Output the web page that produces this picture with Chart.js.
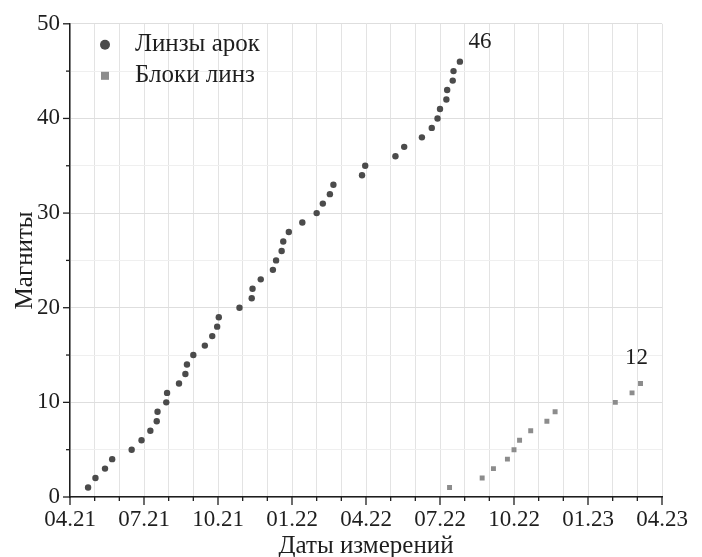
<!DOCTYPE html>
<html>
<head>
<meta charset="utf-8">
<script src="https://cdn.jsdelivr.net/npm/chart.js@4.4.0/dist/chart.umd.min.js"></script>
<style>
  html, body { margin: 0; padding: 0; background: #fff; }
  #wrap { width: 702px; height: 557px; }
</style>
</head>
<body>
<div id="wrap"><canvas id="myChart" width="702" height="557"></canvas></div>
<script>
// dates of measurement (dd.mm.yy) and cumulative counts
var datesArc = ['23.04.21', '02.05.21', '14.05.21', '23.05.21', '16.06.21', '28.06.21', '09.07.21', '17.07.21',
    '18.07.21', '29.07.21', '30.07.21', '14.08.21', '22.08.21', '24.08.21', '01.09.21', '15.09.21',
    '24.09.21', '30.09.21', '02.10.21', '28.10.21', '12.11.21', '13.11.21', '23.11.21', '08.12.21',
    '12.12.21', '19.12.21', '21.12.21', '28.12.21', '14.01.22', '01.02.22', '08.02.22', '16.02.22',
    '20.02.22', '27.03.22', '31.03.22', '07.05.22', '18.05.22', '09.06.22', '21.06.22', '28.06.22',
    '01.07.22', '09.07.22', '10.07.22', '17.07.22', '18.07.22', '26.07.22'];
var countArc = [1, 2, 3, 4, 5, 6, 7, 8, 9, 10, 11, 12, 13, 14, 15, 16, 17, 18, 19, 20, 21, 22, 23,
    24, 25, 26, 27, 28, 29, 30, 31, 32, 33, 34, 35, 36, 37, 38, 39, 40, 41, 42, 43, 44, 45, 46];

var datesBlock = ['13.07.22', '23.08.22', '06.09.22', '23.09.22', '01.10.22', '08.10.22', '22.10.22',
    '11.11.22', '21.11.22', '04.02.23', '23.02.23', '05.03.23'];
var countBlock = [1, 2, 3, 4, 5, 6, 7, 8, 9, 10, 11, 12];

var xTickLabels = ['04.21', '07.21', '10.21', '01.22', '04.22', '07.22', '10.22', '01.23', '04.23'];
var seriesNames = ['Линзы арок', 'Блоки линз'];

// months since 01.04.21
function toMonths(s) {
    var p = s.split('.');
    var d = +p[0], m = +p[1], y = 2000 + (+p[2]);
    var dim = new Date(y, m, 0).getDate();
    return (y - 2021) * 12 + (m - 4) + (d - 1) / dim;
}
function points(dates, counts) {
    return dates.map(function (d, i) { return { x: toMonths(d), y: counts[i] }; });
}

var serif = "'Liberation Serif', 'DejaVu Serif', serif";
var ink = '#1e1e1e';

var tickPlugin = {
    id: 'ticksMarks',
    afterDraw: function (chart) {
        var ctx = chart.ctx;
        var xs = chart.scales.x, ys = chart.scales.y;
        ctx.save();
        ctx.strokeStyle = ink;
        ctx.lineWidth = 1.3;
        xs.ticks.forEach(function (t, i) {
            var px = xs.getPixelForTick(i);
            var len = t.value % 3 === 0 ? 8 : 4;
            ctx.beginPath();
            ctx.moveTo(px, xs.top);
            ctx.lineTo(px, xs.top + len);
            ctx.stroke();
        });
        ys.ticks.forEach(function (t, i) {
            var py = ys.getPixelForTick(i);
            var len = t.value % 10 === 0 ? 7 : 4;
            ctx.beginPath();
            ctx.moveTo(ys.right, py);
            ctx.lineTo(ys.right - len, py);
            ctx.stroke();
        });
        ctx.restore();
    }
};

var legendPlugin = {
    id: 'innerLegend',
    afterDatasetsDraw: function (chart) {
        var ctx = chart.ctx;
        var a = chart.chartArea;
        ctx.save();
        ctx.font = '25px ' + serif;
        ctx.textBaseline = 'middle';
        chart.data.datasets.forEach(function (ds, i) {
            var cx = a.left + 35, cy = a.top + 21 + i * 31;
            ctx.fillStyle = ds.backgroundColor;
            if (ds.pointStyle === 'rect') {
                ctx.fillRect(cx - 4, cy - 4, 8, 8);
            } else {
                ctx.beginPath();
                ctx.arc(cx, cy, 5, 0, Math.PI * 2);
                ctx.fill();
            }
            ctx.fillStyle = ink;
            ctx.fillText(ds.label, a.left + 65, cy);
        });

        // last value next to each series
        ctx.font = '23px ' + serif;
        ctx.textAlign = 'center';
        var offs = [[20, -20], [-4, -25]];
        chart.data.datasets.forEach(function (ds, i) {
            var meta = chart.getDatasetMeta(i);
            var last = meta.data[meta.data.length - 1];
            var v = ds.data[ds.data.length - 1].y;
            ctx.fillText(String(v), last.x + offs[i][0], last.y + offs[i][1]);
        });
        ctx.restore();
    }
};

var ctx = document.getElementById('myChart').getContext('2d');
var myChart = new Chart(ctx, {
    type: 'scatter',
    data: {
        datasets: [{
            label: seriesNames[0],
            data: points(datesArc, countArc),
            backgroundColor: '#4b4b4b',
            borderColor: '#4b4b4b',
            pointStyle: 'circle',
            pointRadius: 3.2,
            borderWidth: 0
        }, {
            label: seriesNames[1],
            data: points(datesBlock, countBlock),
            backgroundColor: '#8c8c8c',
            borderColor: '#8c8c8c',
            pointStyle: 'rect',
            pointRadius: 3.5,
            borderWidth: 0
        }]
    },
    options: {
        responsive: false,
        animation: false,
        layout: { padding: { top: 21, right: 40, left: 0, bottom: 0 } },
        plugins: {
            legend: { display: false },
            tooltip: { enabled: false }
        },
        scales: {
            x: {
                type: 'linear',
                min: 0,
                max: 24,
                afterFit: function (s) { s.height = 60; },
                border: { color: ink, width: 1.5 },
                grid: {
                    drawTicks: false,
                    color: '#e3e3e3',
                    lineWidth: 1
                },
                ticks: {
                    stepSize: 1,
                    autoSkip: false,
                    maxRotation: 0,
                    padding: 9,
                    color: ink,
                    font: { family: serif, size: 23 },
                    callback: function (v) { return v % 3 === 0 ? xTickLabels[v / 3] : ''; }
                },
                title: {
                    display: true,
                    text: 'Даты измерений',
                    color: ink,
                    padding: { top: 0, bottom: -4 },
                    font: { family: serif, size: 25 }
                }
            },
            y: {
                min: 0,
                max: 50,
                afterFit: function (s) { s.width = 70; },
                border: { color: ink, width: 1.5 },
                grid: {
                    drawTicks: false,
                    color: function (c) { return c.tick && c.tick.value % 10 === 0 ? '#dedede' : '#efefef'; },
                    lineWidth: 1
                },
                ticks: {
                    stepSize: 5,
                    padding: 10,
                    color: ink,
                    font: { family: serif, size: 23 },
                    callback: function (v) { return v % 10 === 0 ? v : ''; }
                },
                title: {
                    display: true,
                    text: 'Магниты',
                    color: ink,
                    padding: { top: 10, bottom: 0 },
                    font: { family: serif, size: 25 }
                }
            }
        }
    },
    plugins: [tickPlugin, legendPlugin]
});
</script>
</body>
</html>
